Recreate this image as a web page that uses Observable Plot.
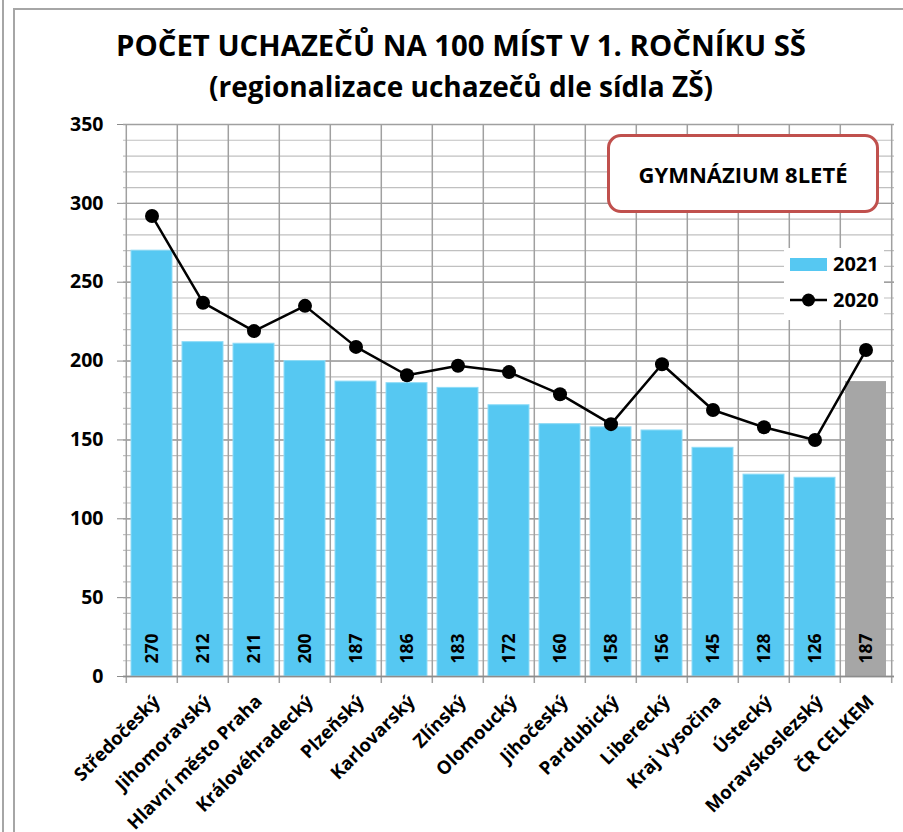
<!DOCTYPE html>
<html>
<head>
<meta charset="utf-8">
<script src="https://cdn.jsdelivr.net/npm/d3@7"></script>
<script src="https://cdn.jsdelivr.net/npm/@observablehq/plot@0.6"></script>
<style>
  html, body { margin: 0; padding: 0; background: #fff; }
  body { width: 903px; height: 832px; position: relative; overflow: hidden; font-family: "Open Sans", sans-serif; }
  #chart { position: absolute; left: 0; top: 0; }
  .frame { position: absolute; background: #a6a6a6; }
  .title { position: absolute; left: 0; width: 922px; text-align: center; font-weight: 700; color: #000; white-space: nowrap; }
  #box { position: absolute; left: 607px; top: 134px; width: 266px; height: 73px; border: 3px solid #c0504d; border-radius: 14px; background: #fff;
         display: flex; align-items: center; justify-content: center; font-weight: 700; font-size: 22px; }
  #legend { position: absolute; left: 784px; top: 248px; width: 100px; height: 72px; background: #fff; font-weight: 700; font-size: 20px; }
  .lg { position: absolute; left: 6px; display: flex; align-items: center; }
</style>
</head>
<body>
<div class="frame" style="left:2px; top:0; width:2px; height:832px;"></div>
<div class="frame" style="left:13px; top:8px; width:2px; height:824px;"></div>
<div class="frame" style="left:13px; top:8px; width:890px; height:2px;"></div>
<div id="chart"></div>
<div class="title" style="top:25px; font-size:29.3px;">POČET UCHAZEČŮ NA 100 MÍST V 1. ROČNÍKU SŠ</div>
<div class="title" style="top:67px; font-size:28px;">(regionalizace uchazečů dle sídla ZŠ)</div>
<div id="box">GYMNÁZIUM 8LETÉ</div>
<div id="legend">
  <div class="lg" style="top:2px;"><svg width="38" height="14"><rect x="0" y="1" width="37" height="13" fill="#56c8f2"></rect></svg><span style="margin-left:5px;">2021</span></div>
  <div class="lg" style="top:38px;"><svg width="38" height="16"><line x1="0" y1="8" x2="37" y2="8" stroke="#000" stroke-width="2.5"></line><circle cx="18.5" cy="8" r="6.5" fill="#000"></circle></svg><span style="margin-left:5px;">2020</span></div>
</div>
<script>
const regions = ["Středočeský","Jihomoravský","Hlavní město Praha","Královéhradecký","Plzeňský","Karlovarský","Zlínský","Olomoucký","Jihočeský","Pardubický","Liberecký","Kraj Vysočina","Ústecký","Moravskoslezský","ČR CELKEM"];
const values2021 = [270,212,211,200,187,186,183,172,160,158,156,145,128,126,187];
const values2020 = [292,237,219,235,209,191,197,193,179,160,198,169,158,150,207];
const yTicks = [0,50,100,150,200,250,300,350];
const minorTicks = d3.range(0, 351, 10);
const totalLabel = "ČR CELKEM";

const data = regions.map((r, i) => ({region: r, v2021: values2021[i], v2020: values2020[i]}));
const regionData = data.filter(d => d.region !== totalLabel);
const totalData = data.filter(d => d.region === totalLabel);

const W = 903, H = 832, mL = 123, mR = 9, mT = 124, mB = 156;
const step = (W - mL - mR) / regions.length;

const chart = Plot.plot({
  width: W, height: H,
  marginLeft: mL, marginRight: mR, marginTop: mT, marginBottom: mB,
  style: {fontFamily: "Open Sans, sans-serif", background: "transparent", overflow: "visible"},
  x: {domain: regions, paddingInner: 0.2, paddingOuter: 0.1, axis: null},
  y: {domain: [0, 350], axis: null},
  marks: [
    Plot.ruleY(minorTicks, {stroke: "#c0c0c0", strokeWidth: 1.2}),
    Plot.ruleY(yTicks, {stroke: "#a0a0a0", strokeWidth: 1.4}),
    Plot.ruleX(regions, {x: d => d, dx: -step / 2, stroke: "#a0a0a0", strokeWidth: 1.5, insetBottom: -7}),
    Plot.ruleX([regions[regions.length - 1]], {x: d => d, dx: step / 2, stroke: "#a0a0a0", strokeWidth: 1.5, insetBottom: -7}),
    Plot.barY(regionData, {x: "region", y: "v2021", fill: "#56c8f2", stroke: "#8fdcf7", strokeWidth: 1}),
    Plot.barY(totalData, {x: "region", y: "v2021", fill: "#a6a6a6"}),
    Plot.ruleY([0], {stroke: "#8c8c8c", strokeWidth: 1.5}),
    Plot.axisY({ticks: yTicks, tickSize: 6, tickPadding: 14, fontSize: 19.5, fontWeight: 700, stroke: "#8c8c8c", color: "#000", label: null}),
    Plot.text(data, {x: "region", y: 0, text: d => String(d.v2021), rotate: -90, textAnchor: "start", dy: -13, fontSize: 17.5, fontWeight: 700, fill: "#000"}),
    Plot.line(data, {x: "region", y: "v2020", stroke: "#000", strokeWidth: 2.5}),
    Plot.dot(data, {x: "region", y: "v2020", r: 7, fill: "#000", stroke: "none"}),
    Plot.text(regions, {x: d => d, y: 0, text: d => d, rotate: -45, textAnchor: "end", dy: 22, dx: 5, fontSize: 18.5, fontWeight: 700, fill: "#000"})
  ]
});
document.getElementById("chart").appendChild(chart);
</script>
</body>
</html>
